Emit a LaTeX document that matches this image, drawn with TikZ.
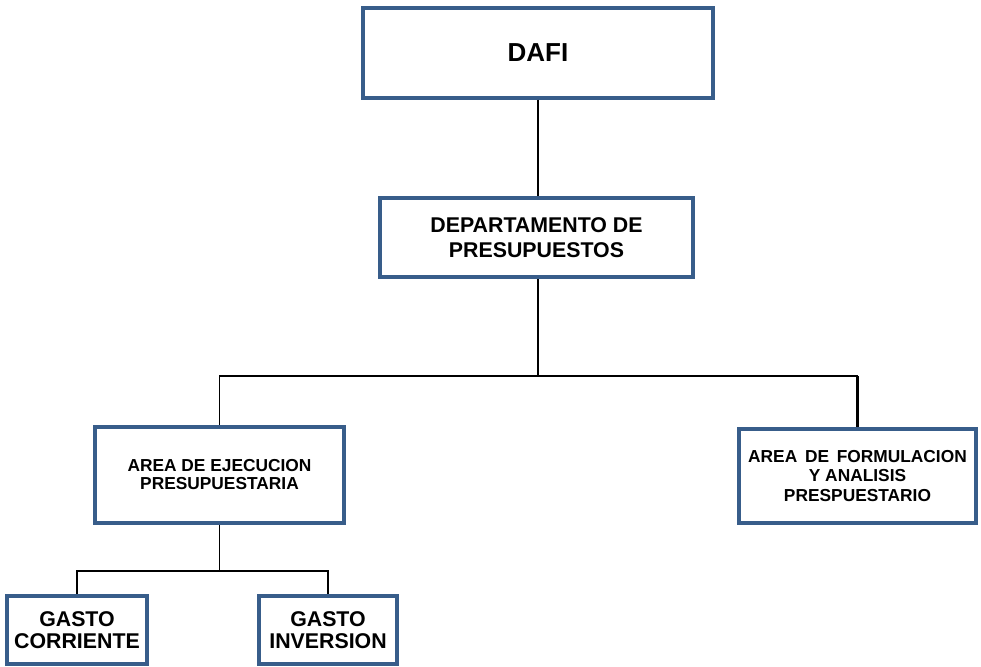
\documentclass[tikz,border=0pt]{standalone}
\usepackage{fontspec}
\setmainfont{Liberation Sans}
\usepackage{tikz}
\definecolor{steelblue}{RGB}{56,93,138}

\begin{document}
\begin{tikzpicture}[x=0.75pt, y=-0.75pt,
  unit/.style={draw=steelblue, line width=3pt, rectangle, fill=white, align=center, font=\bfseries, inner sep=2pt},
  link/.style={black, line width=1.8pt},
  thinlink/.style={black, line width=1.1pt}]
\useasboundingbox (0,0) rectangle (981,667);
% Organigrama del departamento de presupuestos
\node[unit, minimum width=262pt, minimum height=67pt, font=\bfseries\fontsize{19.5}{23}\selectfont] (dafi) at (538,53) {DAFI};
\node[unit, minimum width=234.75pt, minimum height=59.25pt, font=\bfseries\fontsize{16}{19}\selectfont] (dept) at (536.5,237.5) {DEPARTAMENTO DE\\PRESUPUESTOS};
\node[unit, minimum width=186.75pt, minimum height=72pt, font=\bfseries\fontsize{13}{13.5}\selectfont] (ejec) at (219.5,475) {AREA DE EJECUCION\\PRESUPUESTARIA};
\node[unit, minimum width=177.75pt, minimum height=70.5pt, font=\bfseries\fontsize{13}{14.6}\selectfont] (form) at (857.5,476) {AREA\, DE\, FORMULACION\\Y ANALISIS\\PRESPUESTARIO};
\node[unit, minimum width=105pt, minimum height=51pt, font=\bfseries\fontsize{16}{17}\selectfont] (corr) at (77,630) {GASTO\\CORRIENTE};
\node[unit, minimum width=103.5pt, minimum height=51pt, font=\bfseries\fontsize{16}{17}\selectfont] (inv) at (328,630) {GASTO\\INVERSION};

\coordinate (bus) at (538,376);
\coordinate (sub) at (219.5,571);

\draw[link] (dafi.south -| bus) -- (bus |- dept.north);
\draw[link] (bus |- dept.south) -- (bus);
\draw[thinlink] (ejec.north) |- (bus) -- (bus -| form.north);
\draw[link] (bus -| form.north) -- (form.north);
\draw[thinlink] (ejec.south) -- (sub);
\draw[thinlink] (corr.north) |- (sub) -| (inv.north);
\end{tikzpicture}
\end{document}
